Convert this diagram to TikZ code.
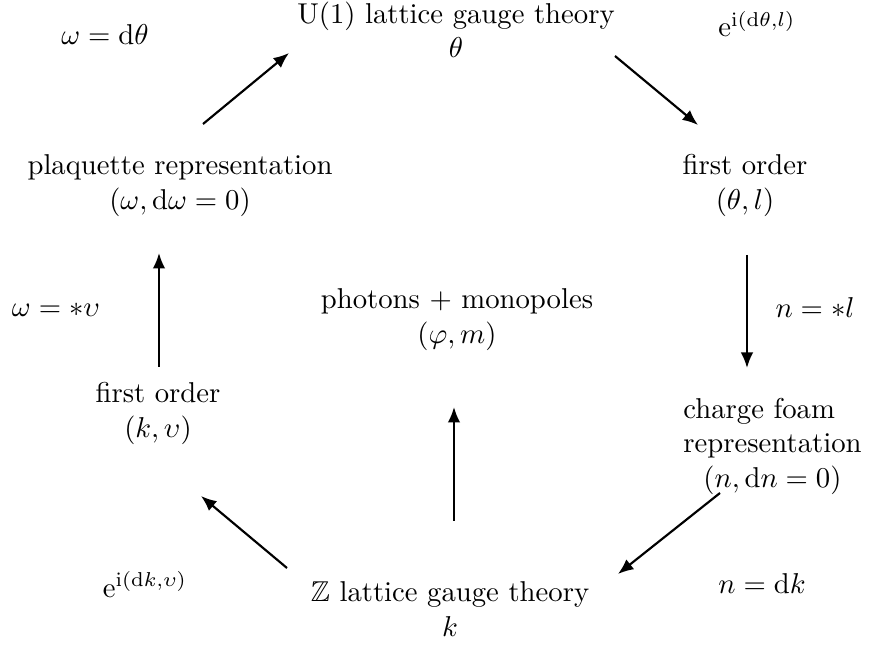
\documentclass[tikz,border=0pt]{standalone}
\usepackage{amsmath,amssymb}
\usetikzlibrary{arrows.meta}
\begin{document}
\begin{tikzpicture}[x=0.3484pt,y=-0.3484pt,
  lbl/.style={inner sep=0pt,align=center},
  one/.style={inner sep=0pt,anchor=base},
  arr/.style={line width=0.75pt,-{Latex[length=5.4pt,width=4.4pt]}}]
\useasboundingbox (0,0) rectangle (877,648);
\node[lbl] (top) at (456,33.5) {U(1) lattice gauge theory\strut\\$\theta$\strut};
\node[one] (wdt) at (105,45) {$\omega=\mathrm{d}\theta$};
\node[one] (eth) at (757,37) {$\mathrm{e}^{\mathrm{i}(\mathrm{d}\theta,l)}$};
\node[lbl] (plaq) at (180,185) {plaquette representation\strut\\$(\omega,\mathrm{d}\omega=0)$\strut};
\node[lbl] (foR) at (745,185) {first order\strut\\$(\theta,l)$\strut};
\node[one] (wsv) at (56,317) {$\omega=\ast\upsilon$};
\node[lbl] (ph) at (457,319) {photons + monopoles\strut\\$(\varphi,m)$\strut};
\node[one] (nsl) at (815,318) {$n=\ast l$};
\node[lbl] (foL) at (158,413) {first order\strut\\$(k,\upsilon)$\strut};
\node[lbl] (cf) at (772.5,446) {\rlap{charge foam}\phantom{representation}\strut\\representation\strut\\$(n,\mathrm{d}n=0)$\strut};
\node[lbl] (Z) at (450,612) {$\mathbb{Z}$ lattice gauge theory\strut\\$k$\strut};
\node[one] (ekv) at (145,597) {$\mathrm{e}^{\mathrm{i}(\mathrm{d}k,\upsilon)}$};
\node[one] (ndk) at (762,594) {$n=\mathrm{d}k$};
\coordinate (a1s) at (203,124); \coordinate (a1e) at (289,53);
\coordinate (a2s) at (615,56);  \coordinate (a2e) at (698,125);
\coordinate (a3s) at (747,255); \coordinate (a3e) at (747,368);
\coordinate (a4s) at (720,493); \coordinate (a4e) at (618,574);
\coordinate (a5s) at (287,568); \coordinate (a5e) at (201,496);
\coordinate (a6s) at (159,367); \coordinate (a6e) at (159,253);
\coordinate (a7s) at (454,521); \coordinate (a7e) at (454,407);
\draw[arr] (a1s) -- (a1e);
\draw[arr] (a2s) -- (a2e);
\draw[arr] (a3s) -- (a3e);
\draw[arr] (a4s) -- (a4e);
\draw[arr] (a5s) -- (a5e);
\draw[arr] (a6s) -- (a6e);
\draw[arr] (a7s) -- (a7e);
\end{tikzpicture}
\end{document}
